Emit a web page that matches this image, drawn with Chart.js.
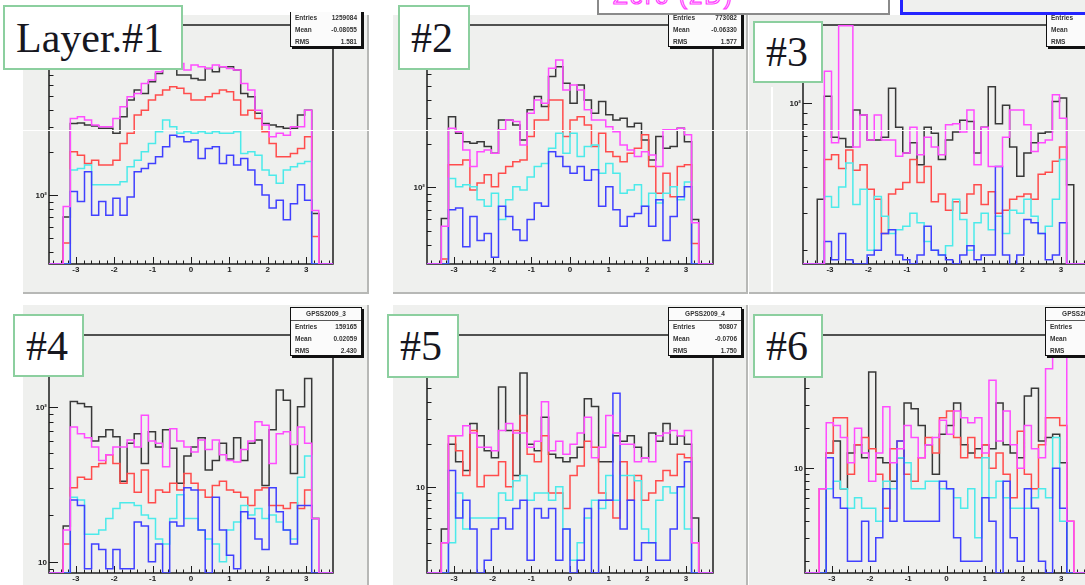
<!DOCTYPE html>
<html>
<head>
<meta charset="utf-8">
<script src="https://cdn.jsdelivr.net/npm/chart.js@4.4.1/dist/chart.umd.min.js"></script>
<style>
  html, body { margin: 0; padding: 0; background: #fff; }
  #stage { position: relative; width: 1085px; height: 585px; overflow: hidden; background: #fff;
           font-family: 'Liberation Sans', Arial, sans-serif; }
  .pad { position: absolute; background: #eff0ee; box-sizing: border-box; }
  .pad.r { border-right: 2px solid #b7b8b6; }
  .pad.b { border-bottom: 2px solid #b7b8b6; }
  #charts { position: absolute; left: 0; top: 0; width: 1085px; height: 585px; }
  #charts canvas { position: absolute; }
  .tag { position: absolute; background: #fff; border: 2px solid #8ccf9f; box-sizing: border-box;
         font-family: 'Liberation Serif', 'Times New Roman', serif; font-size: 42px; line-height: 1;
         color: #17171f; display: flex; align-items: center; padding-left: 11px; }
  .stats { position: absolute; background: #fbfbfb; border: 1px solid #111; box-shadow: 2px 2px 0 #111;
           font-size: 6.5px; font-weight: bold; color: #333; box-sizing: border-box; overflow: hidden; }
  .stats div { display: flex; justify-content: space-between; padding: 0 4px; height: 12px; line-height: 12px; }
  .stats .ttl { justify-content: center; border-bottom: 1px solid #555; }
  .legbox { position: absolute; box-sizing: border-box; overflow: hidden; }
  .wline { position: absolute; background: #fff; }
</style>
</head>
<body>
<div id="stage">
  <div class="pad r b" style="left:23px;top:15px;width:346px;height:279px"></div>
  <div class="pad r b" style="left:393px;top:15px;width:355px;height:279px"></div>
  <div class="pad b" style="left:749px;top:15px;width:336px;height:279px"></div>
  <div class="pad r" style="left:23px;top:305px;width:346px;height:280px"></div>
  <div class="pad r" style="left:393px;top:305px;width:355px;height:280px"></div>
  <div class="pad" style="left:749px;top:305px;width:336px;height:280px"></div>

  <div id="charts"></div>

  <div class="stats" style="left:290px;top:-2px;width:72px;height:49px">
    <div class="ttl">GPSS2009_0</div>
    <div><span>Entries</span><span>1259084</span></div>
    <div><span>Mean</span><span>-0.08055</span></div>
    <div><span>RMS</span><span>1.581</span></div>
  </div>
  <div class="stats" style="left:668px;top:-2px;width:74px;height:49px">
    <div class="ttl">GPSS2009_1</div>
    <div><span>Entries</span><span>773082</span></div>
    <div><span>Mean</span><span>-0.06330</span></div>
    <div><span>RMS</span><span>1.577</span></div>
  </div>
  <div class="stats" style="left:1046px;top:-2px;width:74px;height:49px">
    <div class="ttl">GPSS2009_2</div>
    <div><span>Entries</span><span>14985</span></div>
    <div><span>Mean</span><span>0.0541</span></div>
    <div><span>RMS</span><span>1.868</span></div>
  </div>
  <div class="stats" style="left:290px;top:307px;width:72px;height:49px">
    <div class="ttl">GPSS2009_3</div>
    <div><span>Entries</span><span>159165</span></div>
    <div><span>Mean</span><span>0.02059</span></div>
    <div><span>RMS</span><span>2.430</span></div>
  </div>
  <div class="stats" style="left:668px;top:307px;width:74px;height:49px">
    <div class="ttl">GPSS2009_4</div>
    <div><span>Entries</span><span>50807</span></div>
    <div><span>Mean</span><span>-0.0706</span></div>
    <div><span>RMS</span><span>1.750</span></div>
  </div>
  <div class="stats" style="left:1045px;top:307px;width:74px;height:49px">
    <div class="ttl">GPSS2009_5</div>
    <div><span>Entries</span><span>30214</span></div>
    <div><span>Mean</span><span>0.0318</span></div>
    <div><span>RMS</span><span>1.905</span></div>
  </div>

  <!-- the top edge of the picture hides the upper part of the row 1 stat boxes -->
  <div class="wline" style="left:286px;top:0;width:82px;height:12px"></div>
  <div class="wline" style="left:664px;top:0;width:84px;height:12px"></div>
  <div class="wline" style="left:1042px;top:0;width:43px;height:12px"></div>

  <div class="legbox" style="left:597px;top:-6px;width:293px;height:21px;background:#fff;border:2px solid #8a8a8a">
    <span style="position:absolute;left:14px;top:-12px;font-size:24px;line-height:24px;color:transparent;-webkit-text-stroke:1.2px #ff40ff;letter-spacing:2px">Zero (2D)</span>
  </div>
  <div class="legbox" style="left:900px;top:-6px;width:200px;height:21px;background:#eff0ee;border:3px solid #2424ff"></div>

  <div class="wline" style="left:0;top:130px;width:1085px;height:1px"></div>
  <div class="wline" style="left:771px;top:87px;width:2px;height:205px"></div>

  <div class="tag" style="left:3px;top:5px;width:180px;height:65px">Layer.#1</div>
  <div class="tag" style="left:398px;top:5px;width:72px;height:65px">#2</div>
  <div class="tag" style="left:753px;top:21px;width:70px;height:62px">#3</div>
  <div class="tag" style="left:13px;top:314px;width:71px;height:63px">#4</div>
  <div class="tag" style="left:387px;top:314px;width:72px;height:64px">#5</div>
  <div class="tag" style="left:753px;top:314px;width:70px;height:64px">#6</div>
</div>

<script>
// histogram binning: 40 bins over -3.7..3.7, each series below lists bins 2..37
// (low edge bin, 34 main bins, high edge bin); bins 0,1,38,39 are empty
const nBins = 40, xLow = -3.7, xHigh = 3.7;
const xTickValues = [-3, -2, -1, 0, 1, 2, 3];
const xTickLabels = ['-3', '-2', '-1', '0', '1', '2', '3'];
const yDecades = [1, 2, 3];
const yDecadeLabels = ['10', '10\u00b2', '10\u00b3'];

// Layer #1
const p1Black   = [70, 319, 322, 311, 306, 295, 295, 272, 356, 467, 548, 519, 628, 718, 779, 822, 699, 699, 662, 645, 779, 738, 800, 800, 758, 519, 492, 376, 319, 311, 303, 295, 295, 366, 396, 74];
const p1Magenta = [83, 346, 356, 337, 311, 303, 303, 346, 418, 492, 519, 611, 645, 738, 844, 867, 844, 758, 822, 800, 779, 822, 800, 779, 758, 611, 548, 396, 311, 257, 272, 264, 303, 303, 396, 78];
const p1Red     = [46, 202, 191, 167, 176, 163, 163, 176, 231, 272, 366, 396, 467, 506, 548, 579, 564, 519, 467, 467, 492, 519, 548, 534, 467, 366, 396, 346, 279, 231, 186, 186, 196, 213, 257, 51];
const p1Cyan    = [0, 150, 154, 163, 118, 118, 118, 118, 124, 158, 176, 202, 231, 279, 337, 303, 272, 279, 272, 279, 272, 279, 272, 272, 279, 196, 202, 191, 150, 138, 121, 150, 158, 167, 172, 0];
const p1Blue    = [0, 106, 90, 146, 72, 90, 72, 95, 72, 97, 146, 154, 167, 186, 219, 264, 257, 237, 244, 181, 213, 219, 167, 191, 163, 181, 150, 118, 100, 81, 92, 67, 87, 118, 92, 0];

// #2
const p2Black   = [61, 307, 236, 206, 201, 206, 191, 172, 291, 291, 269, 212, 342, 422, 360, 580, 679, 521, 379, 508, 400, 324, 390, 316, 291, 299, 262, 276, 212, 154, 224, 186, 191, 255, 206, 60];
const p2Magenta = [54, 255, 242, 181, 139, 176, 181, 172, 249, 291, 284, 196, 324, 400, 379, 661, 754, 469, 508, 469, 342, 291, 291, 262, 242, 196, 181, 163, 176, 167, 139, 249, 249, 255, 230, 57];
const p2Red     = [32, 143, 143, 154, 96, 107, 122, 101, 125, 139, 150, 154, 224, 291, 291, 400, 400, 224, 291, 307, 269, 191, 236, 176, 163, 150, 172, 186, 230, 139, 91, 125, 86, 139, 143, 41];
const p2Cyan    = [0, 115, 101, 104, 101, 82, 74, 91, 60, 82, 101, 96, 118, 139, 146, 186, 236, 172, 236, 163, 191, 196, 125, 146, 125, 91, 96, 104, 74, 91, 78, 91, 101, 82, 109, 0];
const p2Blue    = [0, 70, 72, 39, 63, 43, 48, 33, 74, 63, 51, 43, 60, 78, 74, 176, 163, 139, 125, 139, 112, 132, 74, 101, 70, 54, 63, 66, 74, 54, 82, 43, 63, 86, 101, 0];

// #3
const p3Black   = [35, 108, 69, 68, 62, 93, 88, 67, 67, 69, 118, 77, 58, 65, 51, 77, 72, 54, 67, 73, 83, 82, 58, 77, 120, 80, 98, 62, 45, 58, 65, 72, 73, 102, 106, 41];
const p3Magenta = [0, 142, 65, 234, 234, 62, 88, 67, 88, 67, 67, 56, 58, 77, 57, 69, 62, 57, 79, 80, 73, 93, 51, 77, 50, 50, 69, 93, 93, 79, 59, 65, 67, 110, 85, 0];
const p3Red     = [0, 54, 57, 49, 60, 48, 51, 39, 35, 24, 37, 39, 42, 54, 42, 50, 34, 37, 31, 34, 30, 37, 41, 33, 38, 30, 31, 35, 36, 37, 35, 46, 47, 53, 62, 0];
const p3Cyan    = [0, 36, 32, 40, 52, 33, 39, 20, 36, 29, 24, 25, 26, 30, 27, 22, 20, 19, 21, 35, 28, 20, 27, 30, 25, 29, 24, 31, 30, 35, 29, 24, 26, 35, 54, 0];
const p3Blue    = [0, 22, 18, 24, 18, 0, 0, 19, 20, 24, 25, 19, 18, 0, 19, 26, 20, 19, 18, 0, 19, 21, 18, 19, 19, 50, 19, 17, 19, 28, 27, 24, 18, 19, 27, 0];

// #4
const p4Black   = [17, 108, 105, 100, 60, 64, 71, 64, 33, 58, 67, 43, 69, 55, 71, 54, 32, 48, 55, 63, 39, 45, 58, 46, 63, 45, 58, 61, 31, 71, 128, 110, 37, 100, 152, 19];
const p4Magenta = [16, 74, 67, 63, 55, 45, 49, 55, 55, 61, 55, 88, 60, 58, 41, 72, 60, 55, 51, 61, 53, 61, 49, 45, 44, 53, 60, 80, 76, 43, 67, 69, 57, 74, 58, 19];
const p4Red     = [13, 30, 35, 34, 41, 43, 49, 43, 32, 37, 28, 39, 24, 29, 28, 32, 29, 37, 32, 29, 26, 31, 33, 29, 28, 26, 23, 29, 30, 23, 23, 22, 24, 22, 29, 19];
const p4Cyan    = [0, 26, 25, 15, 15, 16, 19, 22, 24, 24, 23, 20, 19, 14, 13, 19, 27, 19, 19, 16, 14, 13, 10, 16, 18, 23, 20, 22, 19, 20, 18, 16, 14, 35, 48, 19];
const p4Blue    = [0, 25, 23, 9, 13, 12, 9, 12, 9, 9, 18, 17, 10, 13, 0, 18, 17, 30, 29, 16, 0, 26, 16, 11, 9, 21, 19, 14, 12, 30, 21, 16, 13, 23, 23, 0];

// #5
const p5Black   = [5, 20, 15, 13, 28, 23, 18, 16, 51, 25, 12, 64, 20, 18, 31, 17, 16, 15, 16, 19, 42, 37, 15, 15, 23, 21, 23, 19, 16, 24, 21, 28, 20, 23, 20, 6];
const p5Magenta = [4, 23, 23, 27, 24, 19, 19, 18, 25, 28, 24, 24, 19, 21, 40, 18, 21, 17, 20, 24, 31, 16, 19, 32, 24, 20, 20, 15, 16, 15, 23, 24, 25, 23, 25, 4];
const p5Red     = [4, 23, 18, 12, 25, 10, 12, 12, 15, 10, 25, 32, 17, 15, 23, 9, 9, 7, 12, 14, 21, 19, 9, 8, 6, 15, 8, 12, 8, 9, 11, 13, 12, 17, 16, 4];
const p5Cyan    = [0, 4, 9, 5, 6, 6, 6, 6, 9, 8, 11, 12, 8, 9, 9, 8, 10, 5, 3, 4, 6, 8, 7, 12, 8, 12, 12, 11, 5, 4, 8, 10, 9, 10, 5, 0];
const p5Blue    = [0, 13, 6, 8, 5, 0, 3, 5, 6, 5, 7, 8, 3, 7, 6, 7, 3, 5, 0, 3, 7, 0, 8, 8, 46, 5, 8, 3, 4, 4, 3, 3, 5, 10, 15, 0];

// #6
const p6Black   = [0, 13, 16, 7, 13, 15, 12, 53, 12, 11, 8, 12, 31, 28, 21, 15, 9, 18, 21, 31, 15, 13, 14, 15, 14, 31, 15, 13, 12, 35, 40, 16, 17, 18, 11, 0];
const p6Magenta = [7, 22, 21, 17, 11, 20, 13, 8, 13, 29, 11, 14, 21, 17, 12, 15, 17, 23, 18, 27, 24, 22, 24, 13, 46, 16, 27, 15, 10, 21, 14, 12, 56, 90, 90, 4];
const p6Red     = [7, 13, 24, 24, 9, 15, 17, 14, 9, 5, 14, 16, 9, 8, 12, 17, 13, 24, 27, 17, 12, 17, 12, 15, 10, 13, 9, 6, 19, 9, 7, 15, 24, 24, 21, 4];
const p6Cyan    = [0, 7, 8, 7, 5, 6, 5, 5, 4, 8, 7, 12, 11, 7, 7, 8, 8, 7, 7, 6, 5, 7, 3, 12, 6, 8, 6, 5, 5, 5, 6, 7, 6, 17, 4, 0];
const p6Blue    = [0, 12, 6, 5, 2, 2, 4, 2, 3, 7, 4, 16, 4, 4, 4, 4, 4, 8, 7, 3, 2, 2, 2, 6, 4, 0, 8, 3, 2, 7, 5, 2, 0, 10, 5, 0];

// black, magenta, red, cyan, blue
const lineColors = ['#383838', '#ff4cff', '#ff4c4c', '#4ceaea', '#4040ff'];
const drawOrder = [5, 1, 4, 3, 2]; // magenta on top

// frame = [left, top, right, bottom] of each pad's plot area
const panels = [
  { frame: [49, 25, 333, 264],   yMin: 32.7, yMax: 1575, series: [p1Black, p1Magenta, p1Red, p1Cyan, p1Blue] },
  { frame: [427, 25, 713, 264],  yMin: 29.6, yMax: 1315, series: [p2Black, p2Magenta, p2Red, p2Cyan, p2Blue] },
  { frame: [803, 25, 1088, 264], yMin: 17.2, yMax: 236,  series: [p3Black, p3Magenta, p3Red, p3Cyan, p3Blue] },
  { frame: [49, 335, 333, 573],  yMin: 8.45, yMax: 290,  series: [p4Black, p4Magenta, p4Red, p4Cyan, p4Blue] },
  { frame: [427, 335, 713, 573], yMin: 2.44, yMax: 119,  series: [p5Black, p5Magenta, p5Red, p5Cyan, p5Blue] },
  { frame: [805, 335, 1088, 573], yMin: 1.63, yMax: 100.5, series: [p6Black, p6Magenta, p6Red, p6Cyan, p6Blue] }
];

const padL = 36, padT = 8, padR = 8, padB = 16;

// step points at the low edge of each bin; empty bins sit on the axis floor
function histPoints(vals, yMin) {
  const full = [0, 0, ...vals, 0, 0];
  const w = (xHigh - xLow) / nBins;
  const pts = full.map((v, k) => ({ x: xLow + k * w, y: v > 0 ? v : yMin }));
  pts.push({ x: xHigh, y: pts[pts.length - 1].y });
  return pts;
}

// ROOT style frame with ticks on the inside
const rootAxes = {
  id: 'rootAxes',
  beforeDatasetsDraw(chart) {
    const { ctx, chartArea: a, scales: { x, y } } = chart;
    ctx.save();
    ctx.strokeStyle = '#1c1c1c';
    ctx.lineWidth = 1.5;
    ctx.strokeRect(a.left, a.top, a.right - a.left, a.bottom - a.top);

    ctx.lineWidth = 1;
    ctx.font = 'bold 8px "Liberation Sans", Arial, sans-serif';
    ctx.fillStyle = '#222';

    // y: decades and 2..9 sub ticks
    ctx.textAlign = 'right';
    ctx.textBaseline = 'middle';
    for (let d = 0; d <= 4; d++) {
      for (let m = 1; m <= 9; m++) {
        const v = m * Math.pow(10, d);
        if (v < y.min || v > y.max) continue;
        const py = Math.round(y.getPixelForValue(v)) + 0.5;
        const len = m === 1 ? 9 : 4.5;
        ctx.beginPath();
        ctx.moveTo(a.left, py);
        ctx.lineTo(a.left + len, py);
        ctx.stroke();
        const li = yDecades.indexOf(d);
        if (m === 1 && li >= 0) ctx.fillText(yDecadeLabels[li], a.left - 2, py);
      }
    }

    // x: minor ticks every 0.2
    for (let t = -36; t <= 36; t += 2) {
      const px = Math.round(x.getPixelForValue(t / 10)) + 0.5;
      const len = t % 10 === 0 ? 7 : 3.5;
      ctx.beginPath();
      ctx.moveTo(px, a.bottom);
      ctx.lineTo(px, a.bottom - len);
      ctx.stroke();
    }
    ctx.textAlign = 'center';
    ctx.textBaseline = 'top';
    xTickValues.forEach((v, i) => {
      ctx.fillText(xTickLabels[i], x.getPixelForValue(v), a.bottom + 2);
    });
    ctx.restore();
  }
};

const holder = document.getElementById('charts');
panels.forEach(p => {
  const [l, t, r, b] = p.frame;
  const cv = document.createElement('canvas');
  cv.width = r - l + padL + padR;
  cv.height = b - t + padT + padB;
  cv.style.left = (l - padL) + 'px';
  cv.style.top = (t - padT) + 'px';
  holder.appendChild(cv);

  const datasets = p.series.map((vals, i) => ({
    data: histPoints(vals, p.yMin),
    borderColor: lineColors[i],
    borderWidth: 1.5,
    stepped: true,
    fill: false,
    pointRadius: 0,
    order: drawOrder[i]
  }));

  new Chart(cv, {
    type: 'line',
    data: { datasets },
    options: {
      responsive: false,
      animation: false,
      devicePixelRatio: 1,
      layout: { padding: { left: padL, top: padT, right: padR, bottom: padB } },
      plugins: { legend: { display: false }, tooltip: { enabled: false } },
      scales: {
        x: { type: 'linear', min: xLow, max: xHigh, display: false },
        y: { type: 'logarithmic', min: p.yMin, max: p.yMax, display: false }
      }
    },
    plugins: [rootAxes]
  });
});
</script>
</body>
</html>
